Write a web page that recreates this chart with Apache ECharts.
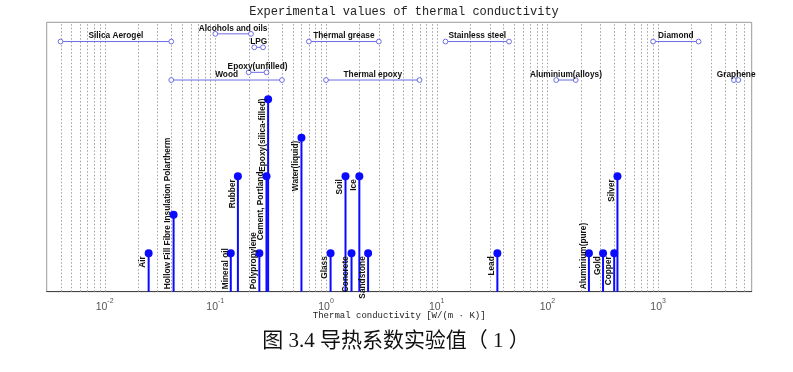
<!DOCTYPE html>
<html><head><meta charset="utf-8">
<script src="https://cdn.jsdelivr.net/npm/echarts@6/dist/echarts.min.js"></script>
<style>html,body{margin:0;padding:0;background:#fff}#c{width:793px;height:372px}</style>
</head><body><div id="c"></div>
<script>
// ---- data ----
const stemNames = ['Air','Hollow Fill Fibre Insulation Polartherm','Mineral oil','Rubber','Polypropylene','Cement, Portland','Epoxy(silica-filled)','Water(liquid)','Glass','Soil','Concrete','Ice','Sandstone','Lead','Aluminium(pure)','Gold','Copper','Silver'];
const stemValues = [0.025,0.042,0.138,0.16,0.25,0.29,0.30,0.6,1.1,1.5,1.7,2.0,2.4,35.3,237,318,401,429];
const stemHeights = [1,2,1,3,1,3,5,4,1,3,1,3,1,1,1,1,1,3];
// label placement: level where the rotated text ends; 0 = text starts at the axis
const stemLabelTop = [1,0,0,3,0,3.2,5.1,4,1,3,1,3,1,1,0,1,1,3];

const rangeNames = ['Silica Aerogel','Alcohols and oils','LPG','Epoxy(unfilled)','Wood','Thermal grease','Thermal epoxy','Stainless steel','Aluminium(alloys)','Diamond','Graphene'];
const rangeLow  = [0.004,0.1,0.225,0.2,0.04,0.7,1,12,120,900,4840];
const rangeHigh = [0.04,0.21,0.27,0.29,0.4,3,7,45,180,2320,5300];
const rangeLevel = [6.5,6.7,6.35,5.7,5.5,6.5,5.5,6.5,5.5,6.5,5.5];

const xMin = 0.003, xMax = 7000;
const tickExponents = [-2,-1,0,1,2,3];
const titleText = 'Experimental values of thermal conductivity';
const xName = 'Thermal conductivity [W/(m \u00b7 K)]';
const captionText = '图 3.4 导热系数实验值（ 1 ）';

// grid line positions (1..9 x 10^k inside the range)
const gridVals = [];
for (let k = -3; k <= 3; k++) for (let m = 1; m <= 9; m++) {
  const v = m * Math.pow(10, k);
  if (v > xMin * 1.001 && v < xMax * 0.999) gridVals.push(v);
}

const labelFont = { fontSize: 8.3, fontWeight: 'bold', fontFamily: 'Liberation Sans, Arial, sans-serif', fill: '#111' };
const stemColor = '#0a0aff';
const rangeColor = '#6d6de6';

const chart = echarts.init(document.getElementById('c'), null, { renderer: 'canvas' });
chart.setOption({
  animation: false,
  backgroundColor: '#fff',
  title: {
    text: titleText, left: 399, top: 1, textAlign: 'center',
    textStyle: { fontFamily: 'Liberation Mono, monospace', fontSize: 12, fontWeight: 'normal', color: '#222' }
  },
  grid: { left: 46.7, right: 41.3, top: 22.3, bottom: 80.3, show: true, borderColor: '#9a9a9a', borderWidth: 1 },
  xAxis: {
    type: 'log', logBase: 10, min: xMin, max: xMax,
    name: xName, nameLocation: 'middle', nameGap: 19, nameMoveOverlap: false,
    nameTextStyle: { fontFamily: 'Liberation Mono, monospace', fontSize: 9, color: '#222' },
    axisLine: { show: true, lineStyle: { color: '#444', width: 1 } },
    axisTick: { show: false },
    splitLine: { show: false },
    axisLabel: {
      interval: 0, margin: 6,
      formatter: function (v) {
        const l = Math.log10(v), e = Math.round(l);
        if (Math.abs(l - e) > 1e-6 || tickExponents.indexOf(e) < 0) return '';
        return '{b|10}{s|' + e + '}';
      },
      rich: {
        b: { fontSize: 10.5, color: '#555', fontFamily: 'Liberation Sans, Arial', verticalAlign: 'bottom', lineHeight: 15 },
        s: { fontSize: 7, color: '#555', fontFamily: 'Liberation Sans, Arial', verticalAlign: 'top', lineHeight: 15 }
      }
    }
  },
  yAxis: { type: 'value', min: 0, max: 7, show: false, splitLine: { show: false } },
  graphic: [{
    type: 'text', x: 396, y: 341,
    style: { text: captionText, fontSize: 21, fontFamily: '"Liberation Serif", "Noto Sans CJK SC", serif', fill: '#111', align: 'center', verticalAlign: 'middle' }
  }],
  series: [
    {
      type: 'custom', name: 'grid', silent: true, z: 1,
      data: gridVals.map(v => [v, 0]),
      encode: { x: 0, y: 1 },
      renderItem: function (params, api) {
        const v = api.value(0);
        const p0 = api.coord([v, 0]), p1 = api.coord([v, 7]);
        const x = Math.round(p0[0]) + 0.5;
        return { type: 'line', shape: { x1: x, y1: p0[1], x2: x, y2: p1[1] }, style: { stroke: '#a0a0a0', lineWidth: 1, lineDash: [1.5, 2] } };
      }
    },
    {
      type: 'custom', name: 'ranges', silent: true, z: 3,
      data: rangeNames.map((n, i) => [rangeLow[i], rangeHigh[i], rangeLevel[i]]),
      encode: { x: [0, 1], y: 2 },
      renderItem: function (params, api) {
        const i = params.dataIndex;
        const lo = api.value(0), hi = api.value(1), lv = api.value(2);
        const a = api.coord([lo, lv]), b = api.coord([hi, lv]);
        const c = api.coord([Math.sqrt(lo * hi), lv]);
        return { type: 'group', children: [
          { type: 'line', shape: { x1: a[0], y1: a[1], x2: b[0], y2: b[1] }, style: { stroke: rangeColor, lineWidth: 1 } },
          { type: 'circle', shape: { cx: a[0], cy: a[1], r: 2.4 }, style: { stroke: rangeColor, fill: '#fff', lineWidth: 1 } },
          { type: 'circle', shape: { cx: b[0], cy: b[1], r: 2.4 }, style: { stroke: rangeColor, fill: '#fff', lineWidth: 1 } },
          { type: 'text', x: c[0], y: a[1] - 1.5, style: Object.assign({ text: rangeNames[i], align: 'center', verticalAlign: 'bottom' }, labelFont) }
        ] };
      }
    },
    {
      type: 'custom', name: 'stems', silent: true, z: 4,
      data: stemValues.map((v, i) => [v, stemHeights[i]]),
      encode: { x: 0, y: 1 },
      renderItem: function (params, api) {
        const i = params.dataIndex;
        const x = api.value(0), h = api.value(1);
        const p0 = api.coord([x, 0]), p1 = api.coord([x, h]);
        const top = stemLabelTop[i];
        let text;
        if (top > 0) {
          const pt = api.coord([x, top]);
          text = { type: 'text', x: p0[0] - 1.5, y: pt[1] + 3, rotation: Math.PI / 2,
            style: Object.assign({ text: stemNames[i], align: 'right', verticalAlign: 'bottom' }, labelFont) };
        } else {
          text = { type: 'text', x: p0[0] - 1.5, y: p0[1] - 2.5, rotation: Math.PI / 2,
            style: Object.assign({ text: stemNames[i], align: 'left', verticalAlign: 'bottom' }, labelFont) };
        }
        return { type: 'group', children: [
          { type: 'line', shape: { x1: p0[0], y1: p0[1], x2: p1[0], y2: p1[1] }, style: { stroke: stemColor, lineWidth: 2 } },
          { type: 'circle', shape: { cx: p1[0], cy: p1[1], r: 4 }, style: { fill: stemColor } },
          text
        ] };
      }
    }
  ]
});
</script></body></html>
